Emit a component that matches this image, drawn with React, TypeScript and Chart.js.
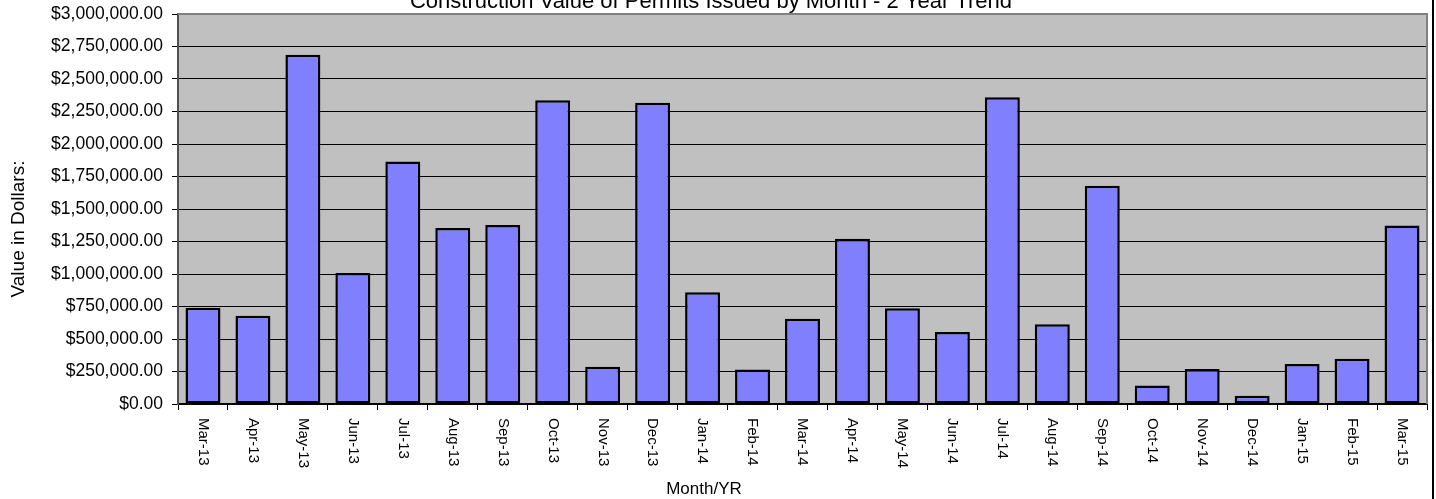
import React, { useEffect, useRef } from 'react';
import { Chart, registerables } from 'chart.js';

Chart.register(...registerables);

const months = [
  'Mar-13', 'Apr-13', 'May-13', 'Jun-13', 'Jul-13', 'Aug-13', 'Sep-13', 'Oct-13', 'Nov-13',
  'Dec-13', 'Jan-14', 'Feb-14', 'Mar-14', 'Apr-14', 'May-14', 'Jun-14', 'Jul-14', 'Aug-14',
  'Sep-14', 'Oct-14', 'Nov-14', 'Dec-14', 'Jan-15', 'Feb-15', 'Mar-15',
];

const permitValues = [
  740000, 678000, 2686000, 1008000, 1865000, 1353000, 1376000, 2336000, 286000,
  2318000, 860000, 266000, 656000, 1271000, 737000, 553000, 2359000, 614000,
  1678000, 143000, 269000, 64000, 307000, 348000, 1374000,
];

const yMin = 0;
const yMax = 3000000;
const yStep = 250000;

const chartTitle = 'Construction Value of Permits Issued by Month - 2 Year Trend';
const xTitle = 'Month/YR';
const yTitle = 'Value in Dollars:';

const FONT = "'Liberation Sans', Arial, sans-serif";

function formatDollars(v: number): string {
  const whole = Math.round(v).toString().replace(/\B(?=(\d{3})+(?!\d))/g, ',');
  return '$' + whole + '.00';
}

const decorPlugin = {
  id: 'decor',
  beforeDraw(chart: any) {
    const { ctx, chartArea: a } = chart;
    ctx.save();
    ctx.fillStyle = '#ffffff';
    ctx.fillRect(0, 0, chart.width, chart.height);
    ctx.fillStyle = '#C0C0C0';
    ctx.fillRect(a.left, a.top, a.right - a.left, a.bottom - a.top);
    ctx.restore();
  },
  afterDraw(chart: any) {
    const { ctx, chartArea: a, scales } = chart;
    const xs = scales.x;
    ctx.save();
    // plot area border (top, right)
    ctx.strokeStyle = '#808080';
    ctx.lineWidth = 2;
    ctx.beginPath();
    ctx.moveTo(a.left, a.top);
    ctx.lineTo(a.right, a.top);
    ctx.lineTo(a.right, a.bottom);
    ctx.stroke();

    // x tick labels, rotated clockwise
    ctx.fillStyle = '#000';
    ctx.font = `15px ${FONT}`;
    ctx.textAlign = 'left';
    ctx.textBaseline = 'middle';
    months.forEach((m, i) => {
      const px = xs.getPixelForValue(i);
      ctx.save();
      ctx.translate(px, a.bottom + 14);
      ctx.rotate(Math.PI / 2);
      ctx.fillText(m, 0, 0);
      ctx.restore();
    });

    // chart title (clipped at top)
    ctx.font = `22px ${FONT}`;
    ctx.textAlign = 'center';
    ctx.textBaseline = 'alphabetic';
    ctx.fillText(chartTitle, chart.width / 2 - 7, 8);

    // x axis title
    ctx.font = `17px ${FONT}`;
    ctx.textBaseline = 'middle';
    ctx.fillText(xTitle, 704, a.bottom + 85);

    // y axis title
    ctx.save();
    ctx.translate(19, 229);
    ctx.rotate(-Math.PI / 2);
    ctx.font = `19px ${FONT}`;
    ctx.textAlign = 'center';
    ctx.textBaseline = 'middle';
    ctx.fillText(yTitle, 0, 0);
    ctx.restore();

    // outer frame line at right
    ctx.strokeStyle = '#000';
    ctx.lineWidth = 2;
    ctx.beginPath();
    ctx.moveTo(chart.width - 3, 0);
    ctx.lineTo(chart.width - 3, chart.height);
    ctx.stroke();
    ctx.restore();
  },
};

export default function App() {
  const canvasRef = useRef<HTMLCanvasElement | null>(null);

  useEffect(() => {
    if (!canvasRef.current) return;
    const chart = new Chart(canvasRef.current, {
      type: 'bar',
      data: {
        labels: months,
        datasets: [
          {
            data: permitValues,
            backgroundColor: '#8080FF',
            borderColor: '#000000',
            borderWidth: 2.5,
            borderSkipped: false,
            categoryPercentage: 1,
            barPercentage: 0.7,
          },
        ],
      },
      options: {
        animation: false,
        responsive: true,
        maintainAspectRatio: false,
        layout: { padding: { left: 0, right: 9, top: 14, bottom: 0 } },
        plugins: {
          legend: { display: false },
          title: { display: false },
          tooltip: { enabled: false },
        },
        scales: {
          x: {
            afterFit: (s: any) => {
              s.height = 95;
              s.paddingLeft = 0;
              s.paddingRight = 0;
            },
            grid: {
              display: true,
              drawOnChartArea: false,
              drawTicks: true,
              tickLength: 6,
              color: '#000',
              offset: true,
            },
            border: { display: true, color: '#000', width: 2 },
            ticks: { display: false },
          },
          y: {
            min: yMin,
            max: yMax,
            afterFit: (s: any) => {
              s.width = 178;
              s.paddingTop = 0;
              s.paddingBottom = 0;
            },
            grid: {
              color: '#000',
              lineWidth: 1,
              tickLength: 6,
              drawTicks: true,
            },
            border: { display: true, color: '#505050', width: 2 },
            ticks: {
              stepSize: yStep,
              padding: 9,
              color: '#000',
              font: { family: FONT, size: 17.5 },
              callback: (v: any) => formatDollars(Number(v)),
            },
          },
        },
      },
      plugins: [decorPlugin],
    });
    return () => chart.destroy();
  }, []);

  return (
    <div style={{ position: 'absolute', left: 0, top: 0, width: 1436, height: 499 }}>
      <canvas ref={canvasRef} />
    </div>
  );
}
